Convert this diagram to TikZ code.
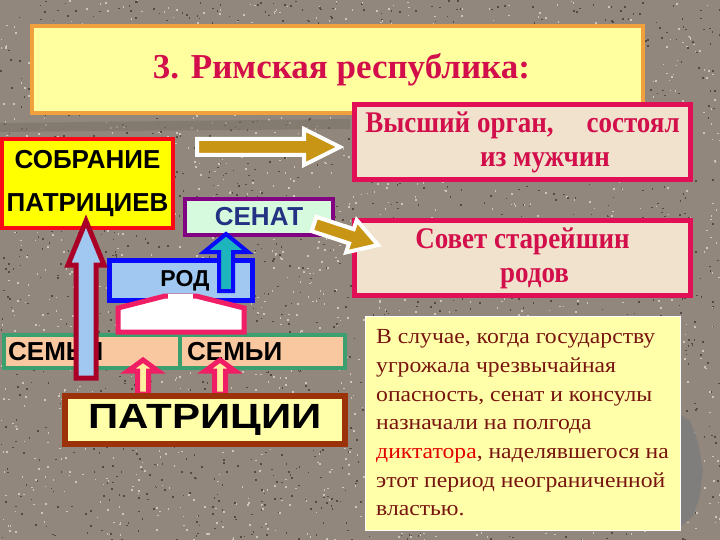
\documentclass[tikz,border=0pt]{standalone}
\usepackage{fontspec}
\setmainfont{Liberation Serif}
\newfontfamily\arialfont{Liberation Sans}
\newfontfamily\arialwide[FakeStretch=1.2]{Liberation Sans}
\newfontfamily\serifcond[FakeStretch=0.9]{Liberation Serif}
\newfontfamily\serifwide[FakeStretch=1.1]{Liberation Serif}
\usetikzlibrary{calc}
\definecolor{bgcol}{RGB}{146,135,124}
\definecolor{specklight}{RGB}{205,196,186}
\definecolor{speckdark}{RGB}{85,75,68}
\definecolor{titlefill}{RGB}{255,255,160}
\definecolor{titleborder}{RGB}{240,160,60}
\definecolor{crim}{RGB}{225,15,85}
\definecolor{crimtext}{RGB}{210,15,75}
\definecolor{parch}{RGB}{240,226,204}
\definecolor{noteyellow}{RGB}{255,255,170}
\definecolor{notetext}{RGB}{120,20,15}
\definecolor{notered}{RGB}{225,0,0}
\definecolor{sobrfill}{RGB}{255,255,0}
\definecolor{sobrborder}{RGB}{250,10,20}
\definecolor{senatfill}{RGB}{214,250,222}
\definecolor{senatborder}{RGB}{130,0,130}
\definecolor{senattext}{RGB}{35,50,130}
\definecolor{rodfill}{RGB}{160,200,240}
\definecolor{rodborder}{RGB}{10,10,250}
\definecolor{semfill}{RGB}{250,200,160}
\definecolor{semborder}{RGB}{60,160,110}
\definecolor{patrfill}{RGB}{255,255,170}
\definecolor{patrborder}{RGB}{155,50,10}
\definecolor{bigarrborder}{RGB}{170,0,40}
\definecolor{tealfill}{RGB}{30,180,190}
\definecolor{pinkborder}{RGB}{240,30,100}
\definecolor{paleyellow}{RGB}{255,240,160}
\definecolor{goldfill}{RGB}{200,150,20}
\definecolor{blobgray}{RGB}{128,126,124}
\newcommand{\blockarrow}[6]{%
  \coordinate (ba-h) at ($(#3)!#6!(#2)$);
  \draw[#1] ($(#2)!#4!90:(#3)$) -- ($(ba-h)!#4!90:(#3)$) -- ($(ba-h)!#5!90:(#3)$) -- (#3)
    -- ($(ba-h)!#5!-90:(#3)$) -- ($(ba-h)!#4!-90:(#3)$) -- ($(#2)!#4!-90:(#3)$) -- cycle;
}
\begin{document}
\begin{tikzpicture}[x=1pt,y=-1pt,
  box/.style={draw, rectangle, inner sep=0pt, line join=miter},
  sanslabel/.style={font=\arialfont\bfseries\fontsize{26}{43}\selectfont, text=black, inner sep=0pt},
  serifhead/.style={font=\serifcond\bfseries\fontsize{30}{34}\selectfont, text=crimtext, align=center},
  arrowshape/.style={line join=miter, miter limit=10}]
\useasboundingbox (0,0) rectangle (720,540);
\fill[bgcol] (0,0) rectangle (720,540);
\pgfmathsetseed{7}
\foreach \i in {1,...,1800} {
  \pgfmathsetmacro{\xa}{720*rnd}
  \pgfmathsetmacro{\ya}{540*rnd}
  \pgfmathsetmacro{\xb}{720*rnd}
  \pgfmathsetmacro{\yb}{540*rnd}
  \fill[specklight] (\xa,\ya) rectangle ++(1.6,1.6);
  \fill[speckdark] (\xb,\yb) rectangle ++(1.6,1.6);
}
\fill[bgcol!85!black, opacity=0.6] (0,123) -- (350,119) -- (350,129) -- (0,132) -- cycle;
\fill[blobgray] (681,415) -- (690,421) -- (698,442) -- (703,470) -- (700,496) -- (693,516) -- (681,526) -- cycle;

% title
\node[box, draw=titleborder, line width=4pt, fill=titlefill, minimum width=611pt, minimum height=87pt,
  font=\bfseries\fontsize{35}{40}\selectfont, text=crimtext] (title) at (337.5,69.5) {\hspace*{8pt}3. Римская республика:};

% right-hand boxes
\node[box, draw=crim, line width=5pt, fill=parch, minimum width=336pt, minimum height=75pt, serifhead] (vys) at (522.5,142)
  {Высший орган,\hspace{1.1em}состоял\\\hspace*{1.5em}из мужчин};
\node[box, draw=crim, line width=5pt, fill=parch, minimum width=336pt, minimum height=75pt, serifhead] (sovet) at (522.5,258)
  {Совет старейшин\\\hspace*{0.8em}родов};
\node[box, draw=white, line width=1pt, fill=noteyellow, minimum width=315pt, minimum height=214pt,
  align=left, text=notetext, font=\serifwide\fontsize{21.5}{28.7}\selectfont] (note) at (522.5,423)
  {В случае, когда государству\\угрожала чрезвычайная\\опасность, сенат и консулы\\назначали на полгода\\{\color{notered}диктатора}, наделявшегося на\\этот период неограниченной\\властью.};

% left-hand boxes
\node[box, draw=sobrborder, line width=4pt, fill=sobrfill, minimum width=171pt, minimum height=89pt,
  sanslabel, align=center] (sobr) at (87.5,183.5) {СОБРАНИЕ\\ПАТРИЦИЕВ};
\node[box, draw=senatborder, line width=4pt, fill=senatfill, minimum width=148pt, minimum height=36pt,
  sanslabel, text=senattext] (senat) at (259,217) {СЕНАТ};
\node[box, draw=rodborder, line width=5pt, fill=rodfill, minimum width=143pt, minimum height=40pt] (rod) at (181,280.5) {};
\node[sanslabel, font=\arialfont\bfseries\fontsize{23}{28}\selectfont] (rodt) at (185,281) {РОД};
\node[box, draw=semborder, line width=4pt, fill=semfill, minimum width=176pt, minimum height=33pt] (sem1) at (92,351.5) {};
\node[box, draw=semborder, line width=4pt, fill=semfill, minimum width=165pt, minimum height=33pt] (sem2) at (262.5,351.5) {};
\node[sanslabel, anchor=west] (sem1t) at (8,352) {СЕМЬИ};
\node[sanslabel, anchor=west] (sem2t) at (187,352) {СЕМЬИ};

% house shape under rod
\draw[pinkborder, line width=5pt, fill=white, line join=miter] (118,332) -- (118,308) -- (165,296) -- (196,296) -- (244,308) -- (244,332) -- cycle;
\fill[white] (168,294) rectangle (193,313);

% arrows
\coordinate (bigtail) at (86,378);
\coordinate (bigtip) at (86,221);
\blockarrow{arrowshape, draw=bigarrborder, fill=rodfill, line width=5pt}{bigtail}{bigtip}{10pt}{18pt}{44pt}
\coordinate (bluetail) at (226,291);
\coordinate (bluetip) at (226,234);
\blockarrow{arrowshape, draw=rodborder, fill=tealfill, line width=4pt}{bluetail}{bluetip}{7pt}{22pt}{18pt}
\coordinate (p1tail) at (143,394);
\coordinate (p1tip) at (143,360);
\blockarrow{arrowshape, draw=pinkborder, fill=paleyellow, line width=5pt}{p1tail}{p1tip}{5.5pt}{15pt}{11pt}
\coordinate (p2tail) at (220,394);
\coordinate (p2tip) at (220,360);
\blockarrow{arrowshape, draw=pinkborder, fill=paleyellow, line width=5pt}{p2tail}{p2tip}{5.5pt}{15pt}{11pt}
\coordinate (g1tail) at (197,147);
\coordinate (g1tip) at (340,147);
\blockarrow{arrowshape, draw=white, fill=goldfill, line width=4pt}{g1tail}{g1tip}{8pt}{18pt}{36pt}
\coordinate (g2tail) at (314,224);
\coordinate (g2tip) at (378,245);
\blockarrow{arrowshape, draw=white, fill=goldfill, line width=4pt}{g2tail}{g2tip}{7.5pt}{17pt}{28pt}

% patricians box
\node[box, draw=patrborder, line width=6pt, fill=patrfill, minimum width=280pt, minimum height=48pt,
  font=\arialwide\bfseries\fontsize{35}{40}\selectfont] (patr) at (205,420) {ПАТРИЦИИ};
\end{tikzpicture}
\end{document}
